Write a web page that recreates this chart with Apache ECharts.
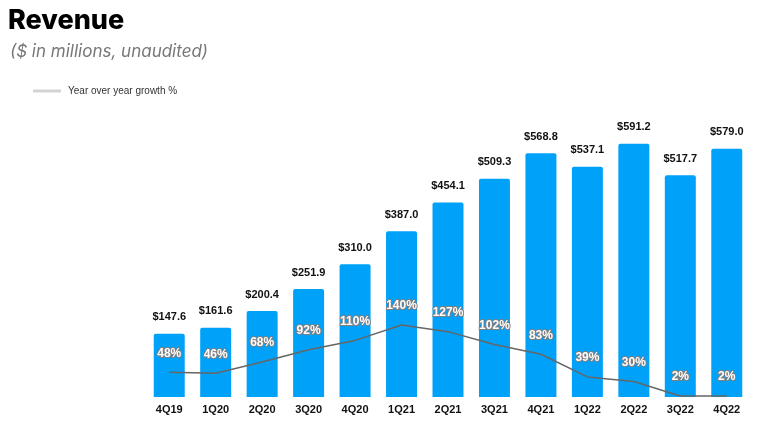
<!DOCTYPE html>
<html><head><meta charset="utf-8">
<script src="https://cdn.jsdelivr.net/npm/echarts@6/dist/echarts.min.js"></script>
<style>html,body{margin:0;padding:0;background:#fff}#c{width:768px;height:425px}</style>
</head><body><div id="c"></div>
<script>
const categories = ['4Q19','1Q20','2Q20','3Q20','4Q20','1Q21','2Q21','3Q21','4Q21','1Q22','2Q22','3Q22','4Q22'];
const revenue = [147.6,161.6,200.4,251.9,310.0,387.0,454.1,509.3,568.8,537.1,591.2,517.7,579.0];
const growth = [48,46,68,92,110,140,127,102,83,39,30,2,2];

const chart = echarts.init(document.getElementById('c'));
chart.setOption({
  animation:false,
  title:[
    {text:'Revenue',left:3,top:2,textStyle:{fontFamily:'Inter',fontSize:27,fontWeight:800,color:'#000'}},
    {text:'($ in millions, unaudited)',left:5,top:38,textStyle:{fontFamily:'Inter',fontSize:17,fontStyle:'italic',fontWeight:'normal',color:'#777'}}
  ],
  legend:{
    left:28,top:81,itemWidth:28,itemHeight:3,icon:'rect',itemGap:8,
    data:[{name:'Year over year growth %',itemStyle:{color:'#d3d3d3'}}],
    textStyle:{fontFamily:'Liberation Sans',fontSize:10,color:'#333',padding:[0,0,0,2]}
  },
  grid:{left:146,right:18,top:97,bottom:28},
  xAxis:{type:'category',data:categories,
    axisLine:{show:false},axisTick:{show:false},
    axisLabel:{fontFamily:'Liberation Sans',fontWeight:'bold',fontSize:11,color:'#111',margin:7}},
  yAxis:[
    {type:'value',min:0,max:700,show:false,splitLine:{show:false}},
    {type:'value',min:0,max:583,show:false,splitLine:{show:false}}
  ],
  series:[
    {type:'bar',name:'Revenue',data:revenue,barWidth:31,
      itemStyle:{color:'#00A1F9',borderRadius:[2,2,0,0]},
      label:{show:true,position:'top',distance:11,formatter:p=>'$'+p.value.toFixed(1),
        fontFamily:'Liberation Sans',fontWeight:'bold',fontSize:11,color:'#111'}},
    {type:'line',name:'Year over year growth %',yAxisIndex:1,data:growth,z:5,
      symbol:'circle',symbolSize:0,showSymbol:true,lineStyle:{color:'#666',width:1.5},itemStyle:{color:'#d3d3d3'},
      label:{show:true,position:'top',distance:13,formatter:p=>p.value+'%',
        fontFamily:'Liberation Sans',fontWeight:'bold',fontSize:12,color:'#fff',
        textBorderColor:'#808080',textBorderWidth:2}}
  ]
});
</script></body></html>
